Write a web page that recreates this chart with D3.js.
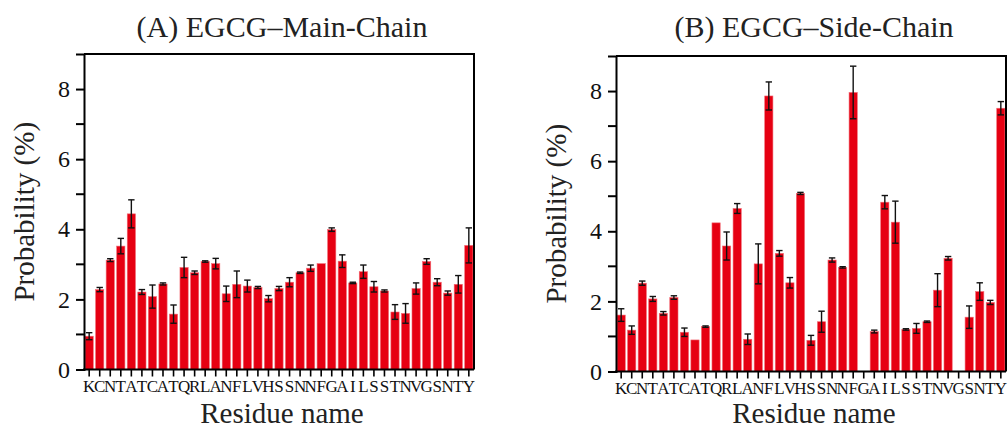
<!DOCTYPE html>
<html>
<head>
<meta charset="utf-8">
<script src="https://cdn.jsdelivr.net/npm/d3@7/dist/d3.min.js"></script>
<style>
  body { margin: 0; background: #fff; }
  svg { display: block; }
  svg text { font-family: "Liberation Serif", "Times New Roman", Tinos, "DejaVu Serif", serif !important; }
</style>
</head>
<body>
<svg id="chart" width="1008" height="430"></svg>
<script>
// Residue sequence shared by both panels
const residues = ['K','C','N','T','A','T','C','A','T','Q','R','L','A','N','F','L','V','H','S',
  'S','N','N','F','G','A','I','L','S','S','T','N','V','G','S','N','T','Y'];

// (A) main-chain contact probability (%) and error
const mainVals = [0.95, 2.28, 3.12, 3.52, 4.44, 2.21, 2.08, 2.44, 1.58, 2.91, 2.76, 3.08, 3.02,
  2.16, 2.43, 2.38, 2.34, 2.02, 2.31, 2.49, 2.76, 2.89, 3.02, 3.99, 3.09, 2.47, 2.79, 2.36,
  2.24, 1.64, 1.60, 2.31, 3.08, 2.49, 2.18, 2.43, 3.54];
const mainErr = [0.10, 0.06, 0.04, 0.22, 0.40, 0.07, 0.33, 0.03, 0.26, 0.29, 0.05, 0.02, 0.15,
  0.22, 0.38, 0.17, 0.03, 0.09, 0.06, 0.13, 0.02, 0.09, 0, 0.05, 0.18, 0.02, 0.19, 0.15,
  0.03, 0.21, 0.28, 0.16, 0.08, 0.10, 0.06, 0.25, 0.50];

// (B) side-chain contact probability (%) and error
const sideVals = [1.61, 1.18, 2.52, 2.07, 1.66, 2.11, 1.12, 0.90, 1.28, 4.24, 3.58, 4.65, 0.92,
  3.07, 7.86, 3.37, 2.53, 5.08, 0.89, 1.42, 3.18, 2.97, 7.96, 0, 1.14, 4.83, 4.26, 1.20,
  1.23, 1.42, 2.32, 3.23, 0, 1.55, 2.28, 1.97, 7.51];
const sideErr = [0.18, 0.12, 0.06, 0.07, 0.05, 0.05, 0.12, 0, 0.02, 0, 0.40, 0.14, 0.15,
  0.57, 0.40, 0.08, 0.15, 0.03, 0.14, 0.30, 0.06, 0.02, 0.75, 0, 0.04, 0.19, 0.60, 0.02,
  0.14, 0.02, 0.47, 0.05, 0, 0.32, 0.25, 0.06, 0.19];

const yMajor = [0, 2, 4, 6, 8];
const yMinor = [1, 3, 5, 7];

const svg = d3.select('#chart');
const BAR = '#e60012';

function drawPanel(opt) {
  const { x0, x1, y0, y1, title, vals, errs } = opt;
  const g = svg.append('g');

  const x = d3.scaleBand().domain(d3.range(residues.length)).range([x0, x1]).paddingInner(0.22).paddingOuter(0.1);
  const y = d3.scaleLinear().domain([0, 9]).range([y1, y0]);

  // bars
  g.selectAll('rect.bar').data(vals).enter().append('rect')
    .attr('class', 'bar')
    .attr('x', (d, i) => x(i))
    .attr('width', x.bandwidth())
    .attr('y', d => y(d))
    .attr('height', d => y(0) - y(d))
    .attr('fill', BAR)
    .attr('stroke', '#f26a74')
    .attr('stroke-width', 0.6);

  // error bars (whisker + caps)
  const cx = i => x(i) + x.bandwidth() / 2;
  const cap = 3.2;
  const eb = g.selectAll('g.err').data(vals.map((v, i) => ({ v, e: errs[i], i })).filter(d => d.e > 0))
    .enter().append('g').attr('class', 'err').attr('stroke', '#111').attr('stroke-width', 1.4);
  eb.append('line').attr('x1', d => cx(d.i)).attr('x2', d => cx(d.i))
    .attr('y1', d => y(d.v - d.e)).attr('y2', d => y(d.v + d.e));
  eb.append('line').attr('x1', d => cx(d.i) - cap).attr('x2', d => cx(d.i) + cap)
    .attr('y1', d => y(d.v + d.e)).attr('y2', d => y(d.v + d.e));
  eb.append('line').attr('x1', d => cx(d.i) - cap).attr('x2', d => cx(d.i) + cap)
    .attr('y1', d => y(d.v - d.e)).attr('y2', d => y(d.v - d.e));

  // frame (top + right)
  g.append('path')
    .attr('d', `M${x0},${y0}H${x1}V${y1}`)
    .attr('fill', 'none').attr('stroke', '#000').attr('stroke-width', 2);

  // y axis
  const ya = g.append('g').attr('transform', `translate(${x0},0)`)
    .call(d3.axisLeft(y).tickValues(yMajor).tickSize(8).tickPadding(6).tickFormat(d3.format('d')));
  ya.select('.domain').attr('stroke-width', 2);
  ya.selectAll('.tick line').attr('stroke-width', 2);
  ya.selectAll('.tick text').attr('font-size', 24).attr('fill', '#111');
  g.selectAll('line.minor').data(yMinor).enter().append('line')
    .attr('x1', x0 - 8).attr('x2', x0)
    .attr('y1', d => y(d)).attr('y2', d => y(d))
    .attr('stroke', '#000').attr('stroke-width', 2);

  // x axis
  const xa = g.append('g').attr('transform', `translate(0,${y1})`)
    .call(d3.axisBottom(x).tickSize(7).tickPadding(3).tickFormat(i => residues[i]));
  xa.select('.domain').attr('d', `M${x0 - 1},0H${x1}`).attr('stroke-width', 2);
  xa.selectAll('.tick line').attr('stroke-width', 1.6);
  xa.selectAll('.tick text').attr('font-size', 17).attr('fill', '#111');

  const mid = (x0 + x1) / 2;
  g.append('text').attr('x', mid + 3).attr('y', 37).attr('text-anchor', 'middle')
    .attr('font-size', 30).attr('fill', '#222').text(title);
  g.append('text').attr('x', mid + 3).attr('y', 423).attr('text-anchor', 'middle')
    .attr('font-size', 29).attr('fill', '#222').text('Residue name');
  g.append('text')
    .attr('transform', `translate(${x0 - 50},${(y0 + y1) / 2}) rotate(-90)`)
    .attr('text-anchor', 'middle').attr('font-size', 29).attr('fill', '#222')
    .text('Probability (%)');
}

drawPanel({ x0: 84, x1: 474, y0: 54, y1: 369.5, title: '(A) EGCG\u2013Main-Chain', vals: mainVals, errs: mainErr });
drawPanel({ x0: 616, x1: 1006, y0: 56, y1: 371.5, title: '(B) EGCG\u2013Side-Chain', vals: sideVals, errs: sideErr });
</script>
</body>
</html>
